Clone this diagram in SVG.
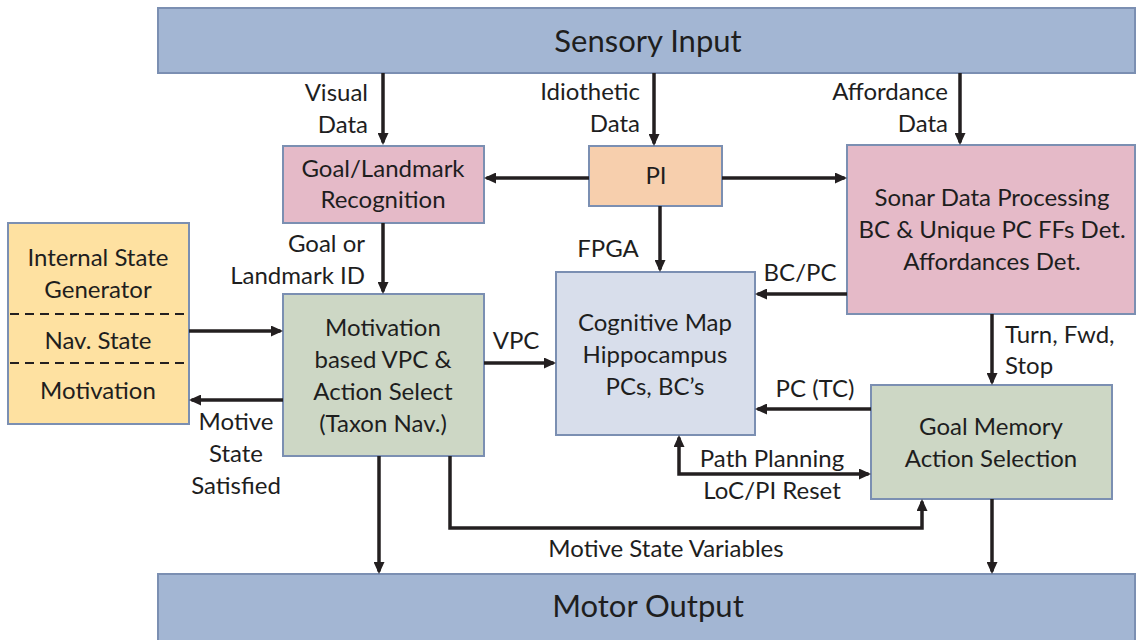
<svg xmlns="http://www.w3.org/2000/svg" width="1137" height="640" viewBox="0 0 1137 640">
  <style>
    .box { stroke: #7b8fb2; stroke-width: 2; }
    .bar { fill: #a3b6d3; }
    .pink { fill: #e5bac8; }
    .peach { fill: #f7cfad; }
    .yellow { fill: #fee1a1; }
    .green { fill: #cdd7c5; }
    .lblue { fill: #d8deeb; }
    text { font-family: Lato, "Open Sans", "Liberation Sans", sans-serif; font-size: 24px; fill: #1e1e1e; }
    .big { font-size: 31px; }
    .c { text-anchor: middle; }
    .r { text-anchor: end; }
    .l { text-anchor: start; }
    .wire { fill: none; stroke: #231f20; stroke-width: 3.5; }
    .dash { fill: none; stroke: #231f20; stroke-width: 2; stroke-dasharray: 9 6; }
  </style>
  <defs>
    <marker id="arrow" markerUnits="userSpaceOnUse" markerWidth="12" markerHeight="11" viewBox="0 0 12 11" refX="9.5" refY="5.5" orient="auto-start-reverse">
      <path d="M0,0 L12,5.5 L0,11 z" fill="#231f20"/>
    </marker>
  </defs>

  <rect width="1137" height="640" fill="#ffffff"/>

  <g id="sensory-input">
    <rect class="box bar" x="158" y="8" width="977" height="65"/>
    <text class="big c" x="648" y="52">Sensory Input</text>
  </g>

  <g id="motor-output">
    <rect class="box bar" x="158" y="574" width="977" height="72"/>
    <text class="big c" x="648" y="617">Motor Output</text>
  </g>

  <g id="goal-landmark">
    <rect class="box pink" x="283" y="146" width="201" height="77"/>
    <text class="c" x="383" y="177">Goal/Landmark</text>
    <text class="c" x="383" y="208">Recognition</text>
  </g>

  <g id="pi">
    <rect class="box peach" x="589" y="146" width="133" height="60"/>
    <text class="c" x="656" y="184">PI</text>
  </g>

  <g id="sonar">
    <rect class="box pink" x="847" y="145" width="288" height="169"/>
    <text class="c" x="992" y="206">Sonar Data Processing</text>
    <text class="c" x="992" y="238">BC &amp; Unique PC FFs Det.</text>
    <text class="c" x="992" y="270">Affordances Det.</text>
  </g>

  <g id="internal-state">
    <rect class="box yellow" x="8" y="223" width="181" height="201"/>
    <path class="dash" d="M10,314 H187 M10,363 H187"/>
    <text class="c" x="98" y="266">Internal State</text>
    <text class="c" x="98" y="298">Generator</text>
    <text class="c" x="98" y="349">Nav. State</text>
    <text class="c" x="98" y="399">Motivation</text>
  </g>

  <g id="motivation">
    <rect class="box green" x="283" y="294" width="201" height="162"/>
    <text class="c" x="383" y="336">Motivation</text>
    <text class="c" x="383" y="368">based VPC &amp;</text>
    <text class="c" x="383" y="400">Action Select</text>
    <text class="c" x="383" y="432">(Taxon Nav.)</text>
  </g>

  <g id="cognitive-map">
    <rect class="box lblue" x="556" y="272" width="199" height="163"/>
    <text class="c" x="655" y="331">Cognitive Map</text>
    <text class="c" x="655" y="363">Hippocampus</text>
    <text class="c" x="655" y="395">PCs, BC’s</text>
  </g>

  <g id="goal-memory">
    <rect class="box green" x="871" y="385" width="241" height="114"/>
    <text class="c" x="991" y="435">Goal Memory</text>
    <text class="c" x="991" y="467">Action Selection</text>
  </g>

  <g id="connectors">
    <path class="wire" marker-end="url(#arrow)" d="M383,73 V142.5"/>
    <path class="wire" marker-end="url(#arrow)" d="M654,73 V143.5"/>
    <path class="wire" marker-end="url(#arrow)" d="M960,73 V142.5"/>
    <path class="wire" marker-end="url(#arrow)" d="M589,178 H486.5"/>
    <path class="wire" marker-end="url(#arrow)" d="M722,178 H844.5"/>
    <path class="wire" marker-end="url(#arrow)" d="M660,206 V269.5"/>
    <path class="wire" marker-end="url(#arrow)" d="M847,294 H757.5"/>
    <path class="wire" marker-end="url(#arrow)" d="M383,223 V291.5"/>
    <path class="wire" marker-end="url(#arrow)" d="M189,331 H280.5"/>
    <path class="wire" marker-end="url(#arrow)" d="M283,400 H191.5"/>
    <path class="wire" marker-end="url(#arrow)" d="M484,363 H553.5"/>
    <path class="wire" marker-end="url(#arrow)" d="M992,314 V382.5"/>
    <path class="wire" marker-end="url(#arrow)" d="M871,409 H757.5"/>
    <path class="wire" marker-start="url(#arrow)" marker-end="url(#arrow)" d="M679,437.5 V474 H868.5"/>
    <path class="wire" marker-end="url(#arrow)" d="M379,456 V571.5"/>
    <path class="wire" marker-end="url(#arrow)" d="M450,456 V528 H922 V501.5"/>
    <path class="wire" marker-end="url(#arrow)" d="M992,499 V571.5"/>

    <text class="r" x="368" y="101">Visual</text>
    <text class="r" x="368" y="133">Data</text>
    <text class="r" x="640" y="100">Idiothetic</text>
    <text class="r" x="640" y="132">Data</text>
    <text class="r" x="948" y="100">Affordance</text>
    <text class="r" x="948" y="132">Data</text>
    <text class="c" x="608" y="257">FPGA</text>
    <text class="c" x="800" y="281">BC/PC</text>
    <text class="r" x="365" y="252">Goal or</text>
    <text class="r" x="365" y="284">Landmark ID</text>
    <text class="c" x="516" y="349">VPC</text>
    <text class="c" x="236" y="430">Motive</text>
    <text class="c" x="236" y="462">State</text>
    <text class="c" x="236" y="494">Satisfied</text>
    <text class="l" x="1005" y="343">Turn, Fwd,</text>
    <text class="l" x="1005" y="374">Stop</text>
    <text class="c" x="815" y="397">PC (TC)</text>
    <text class="c" x="772" y="467">Path Planning</text>
    <text class="c" x="772" y="499">LoC/PI Reset</text>
    <text class="c" x="666" y="557">Motive State Variables</text>
  </g>
</svg>
